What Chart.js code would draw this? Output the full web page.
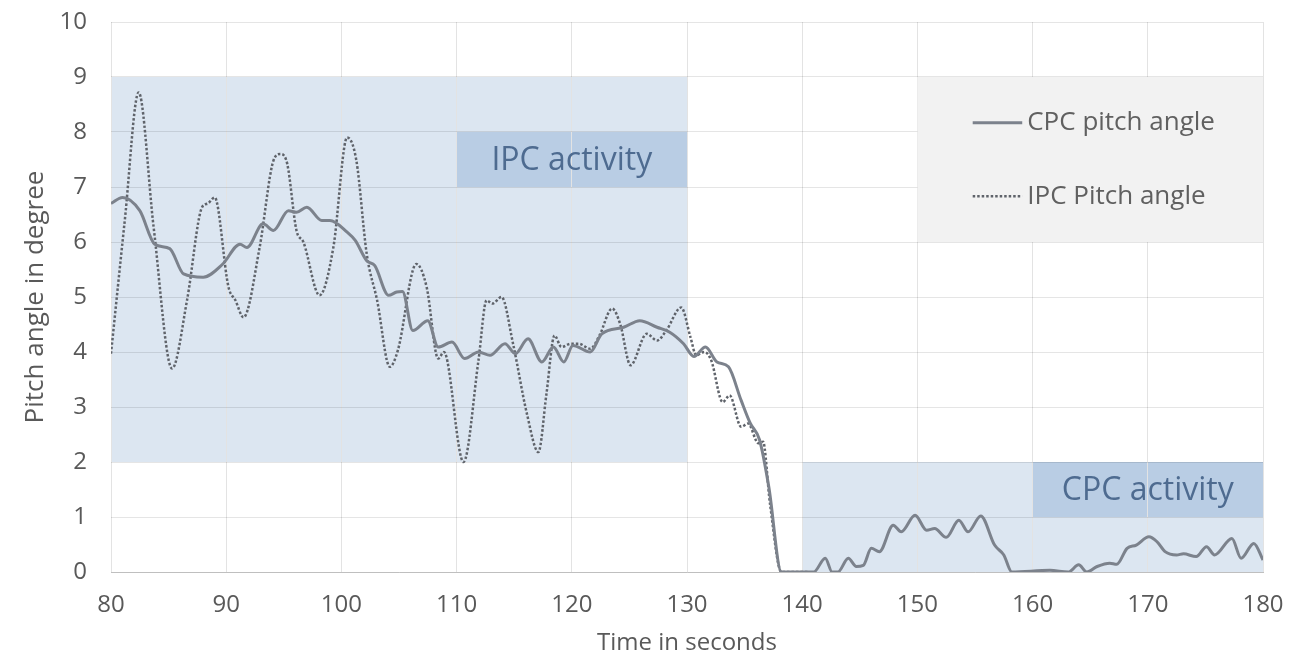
<!DOCTYPE html>
<html>
<head>
<meta charset="utf-8">
<script src="https://cdn.jsdelivr.net/npm/chart.js"></script>
<style>
  html, body { margin: 0; padding: 0; background: #fff; }
  #wrap { width: 1314px; height: 658px; }
</style>
</head>
<body>
<div id="wrap"><canvas id="PitchGrafico"></canvas></div>
<script>
const cpcTime = [80, 81, 82.5, 83.8, 85.1, 86.3, 88, 89.7, 91.2, 91.8, 93.2, 94.1, 95.4, 96.1, 97, 98.3, 99, 100.5, 101.2, 102.2, 102.9, 104.1, 104.8, 105.3, 106.2, 107.5, 108.4, 109.6, 110.7, 111.9, 112.9, 114.2, 115.1, 116.2, 117.4, 118.4, 119.3, 120.1, 121.6, 122.6, 124.5, 125.9, 127.4, 128.5, 129.7, 130.6, 131.6, 132.6, 133.6, 134.7, 135.5, 136.3, 137.1, 138.2, 141, 142, 142.6, 143.1, 144, 144.7, 145.3, 146, 146.7, 147.9, 148.6, 149.8, 150.8, 151.5, 152.5, 153.6, 154.4, 155.5, 156.7, 157.5, 158.2, 161.5, 163.1, 164, 164.7, 165.6, 166.7, 167.3, 168.2, 169, 170.1, 170.8, 171.5, 172.5, 173.1, 174.2, 175.1, 175.8, 177.3, 178.1, 179.2, 180];
const cpcPitch = [6.70, 6.81, 6.57, 5.96, 5.88, 5.42, 5.36, 5.60, 5.96, 5.90, 6.33, 6.21, 6.57, 6.54, 6.63, 6.39, 6.39, 6.18, 6.03, 5.66, 5.57, 5.03, 5.09, 5.10, 4.39, 4.57, 4.09, 4.18, 3.88, 4.00, 3.94, 4.15, 3.97, 4.24, 3.82, 4.09, 3.82, 4.12, 4.00, 4.33, 4.45, 4.57, 4.45, 4.36, 4.15, 3.92, 4.09, 3.82, 3.73, 3.12, 2.70, 2.40, 1.55, 0, 0, 0.25, 0, 0, 0.25, 0.10, 0.12, 0.43, 0.37, 0.85, 0.73, 1.03, 0.76, 0.79, 0.63, 0.94, 0.73, 1.02, 0.49, 0.31, 0, 0.03, 0, 0.13, 0, 0.10, 0.16, 0.14, 0.43, 0.49, 0.64, 0.55, 0.37, 0.31, 0.33, 0.28, 0.46, 0.31, 0.61, 0.25, 0.52, 0.22];

const ipcTime = [80, 81.2, 82.4, 83.7, 85.3, 86.6, 87.9, 88.4, 89, 90.2, 90.8, 91.5, 92.9, 94.1, 94.7, 95.3, 96.1, 96.7, 98.1, 99.3, 100.5, 101.3, 102.2, 103.1, 104.2, 104.9, 106.5, 107.4, 108.4, 108.9, 110.6, 111.9, 112.6, 113.1, 113.9, 114.9, 116.1, 117.1, 117.8, 118.5, 119.1, 119.9, 120.6, 121.6, 122.4, 123.5, 124.2, 125.1, 126.5, 127.4, 128.2, 129.5, 130.3, 130.8, 131.5, 132.1, 133.1, 133.7, 134.7, 135.3, 136.2, 136.6, 137.2, 138.2, 140.5];
const ipcPitch = [3.97, 6.40, 8.72, 6.27, 3.70, 4.94, 6.63, 6.70, 6.81, 5.18, 4.94, 4.63, 5.90, 7.48, 7.60, 7.42, 6.21, 6.00, 5.03, 5.90, 7.90, 7.48, 5.78, 4.94, 3.73, 4.03, 5.60, 5.18, 3.88, 4.00, 2.00, 3.85, 4.94, 4.88, 5.00, 4.15, 2.88, 2.18, 3.24, 4.30, 4.09, 4.15, 4.15, 4.06, 4.30, 4.79, 4.51, 3.76, 4.33, 4.21, 4.39, 4.81, 4.27, 3.94, 4.00, 3.85, 3.09, 3.21, 2.64, 2.70, 2.34, 2.37, 1.25, 0, 0];

const seriesNames = ['CPC pitch angle', 'IPC Pitch angle'];

// shaded areas: [x0, x1, y0, y1, colour, label]
const areas = [
    [80, 130, 2, 9, '#dce6f1', ''],
    [110, 130, 7, 8, '#b9cde4', 'IPC activity'],
    [140, 180, 0, 2, '#dce6f1', ''],
    [160, 180, 1, 2, '#b9cde4', 'CPC activity']
];
// legend panel [x0, x1, y0, y1]
const legendArea = [150, 180, 6, 9];

const FONT = '"Open Sans", "Noto Sans", sans-serif';

const areasPlugin = {
    id: 'areas',
    beforeDraw(chart) {
        const c = chart.ctx, xs = chart.scales.x, ys = chart.scales.y;
        c.save();
        areas.forEach(a => {
            const l = xs.getPixelForValue(a[0]), r = xs.getPixelForValue(a[1]);
            const t = ys.getPixelForValue(a[3]), b = ys.getPixelForValue(a[2]);
            c.fillStyle = a[4];
            c.fillRect(l, t, r - l, b - t);
        });
        c.restore();
    },
    beforeDatasetsDraw(chart) {
        const c = chart.ctx, xs = chart.scales.x, ys = chart.scales.y;
        c.save();
        areas.forEach(a => {
            if (!a[5]) return;
            const l = xs.getPixelForValue(a[0]), r = xs.getPixelForValue(a[1]);
            const t = ys.getPixelForValue(a[3]), b = ys.getPixelForValue(a[2]);
            c.fillStyle = '#4e6b90';
            c.font = '32px ' + FONT;
            c.textAlign = 'center';
            c.textBaseline = 'middle';
            c.fillText(a[5], (l + r) / 2, (t + b) / 2 + 1);
        });
        // legend panel
        const l = xs.getPixelForValue(legendArea[0]), r = xs.getPixelForValue(legendArea[1]);
        const t = ys.getPixelForValue(legendArea[3]), b = ys.getPixelForValue(legendArea[2]);
        c.fillStyle = '#f2f2f2';
        c.fillRect(l, t, r - l, b - t);
        const rows = [ys.getPixelForValue(8.17), ys.getPixelForValue(6.83)];
        const x0 = xs.getPixelForValue(154.8), x1 = xs.getPixelForValue(159.1);
        chart.data.datasets.forEach((ds, i) => {
            c.strokeStyle = ds.borderColor;
            c.lineWidth = ds.borderWidth;
            c.setLineDash(ds.borderDash || []);
            c.beginPath();
            c.moveTo(x0, rows[i]);
            c.lineTo(x1, rows[i]);
            c.stroke();
            c.setLineDash([]);
            c.fillStyle = '#606060';
            c.font = '26px ' + FONT;
            c.textAlign = 'left';
            c.textBaseline = 'middle';
            c.fillText(seriesNames[i], x1 + 5, rows[i]);
        });
        c.restore();
    }
};

const ctx = document.getElementById('PitchGrafico');

new Chart(ctx, {
    type: 'line',
    data: {
        datasets: [{
            label: seriesNames[0],
            data: cpcTime.map((t, i) => ({ x: t, y: cpcPitch[i] })),
            borderColor: '#7c828c',
            borderWidth: 3,
            pointRadius: 0,
            cubicInterpolationMode: 'monotone'
        }, {
            label: seriesNames[1],
            data: ipcTime.map((t, i) => ({ x: t, y: ipcPitch[i] })),
            borderColor: '#5f636a',
            borderWidth: 2.5,
            borderDash: [2.5, 2],
            pointRadius: 0,
            cubicInterpolationMode: 'monotone'
        }]
    },
    options: {
        responsive: true,
        maintainAspectRatio: false,
        animation: false,
        layout: { padding: { top: 22, right: 51, left: 0, bottom: 0 } },
        plugins: {
            legend: { display: false },
            tooltip: { enabled: false }
        },
        scales: {
            x: {
                type: 'linear',
                min: 80,
                max: 180,
                ticks: { stepSize: 10, color: '#595959', padding: 19, font: { family: FONT, size: 24 } },
                grid: { color: '#e3e3e3', drawTicks: false },
                border: { color: '#bfbfbf' },
                title: { display: true, text: 'Time in seconds', color: '#595959', padding: { top: 4, bottom: 0 }, font: { family: FONT, size: 24 } },
                afterFit(s) { s.height = 86; }
            },
            y: {
                min: 0,
                max: 10,
                ticks: { stepSize: 1, color: '#595959', padding: 24, font: { family: FONT, size: 24 } },
                grid: { color: 'rgba(0,0,0,0.1)', drawTicks: false },
                border: { display: false },
                title: { display: true, text: 'Pitch angle in degree', color: '#595959', padding: { top: 20, bottom: 0 }, font: { family: FONT, size: 26 } },
                afterFit(s) {
                    s.width = 111;
                    s.paddingTop = 0;
                    s.paddingBottom = 0;
                }
            }
        }
    },
    plugins: [areasPlugin]
});
</script>
</body>
</html>
